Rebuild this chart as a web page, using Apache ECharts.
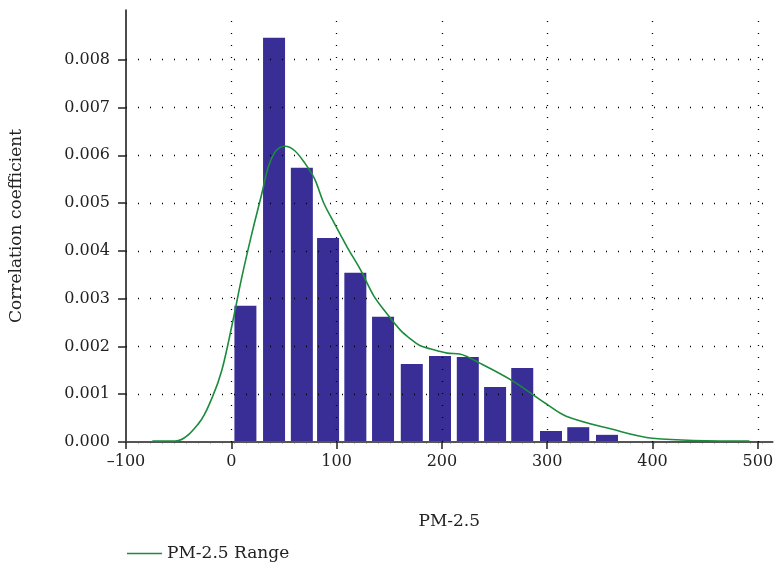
<!DOCTYPE html>
<html>
<head>
<meta charset="utf-8">
<script src="https://cdn.jsdelivr.net/npm/echarts@6/dist/echarts.min.js"></script>
<style>
  html, body { margin: 0; padding: 0; background: #fff; }
  #chartBox { width: 776px; height: 567px; }
</style>
</head>
<body>
<div id="chartBox"></div>
<script>
// histogram bins (bar centres on PM-2.5 axis) and heights
const binCenters = [13.4, 40.6, 67, 91.9, 117.8, 144.1, 171.4, 198.2, 224.6, 250.5, 276.3, 303.6, 329.5, 356.8]
const binHeights = [0.00285, 0.00846, 0.00574, 0.00427, 0.00354, 0.00262, 0.00163, 0.0018, 0.00178, 0.00115, 0.00155, 0.00023, 0.00031, 0.00015]

// density curve "PM-2.5 Range"
const curveX = [-75, -53, -31, -18, -9, 1, 10, 19.5, 29, 35, 41, 46, 51, 60, 70, 79, 88, 98, 110, 123, 135, 148, 161, 170, 179, 189, 205, 217, 236, 267, 299, 318, 361, 400, 492]
const curveY = [0.00002, 0.00002, 0.00039, 0.00094, 0.0015, 0.00248, 0.00345, 0.00436, 0.0052, 0.00575, 0.00605, 0.00616, 0.00619, 0.0061, 0.00583, 0.00551, 0.00499, 0.00457, 0.00408, 0.00359, 0.00307, 0.00268, 0.00233, 0.00216, 0.00202, 0.00195, 0.00186, 0.00184, 0.00165, 0.00128, 0.0008, 0.00054, 0.00027, 0.00008, 0.00002]

const xTicks = [-100, 0, 100, 200, 300, 400, 500]
const yTicks = [0, 0.001, 0.002, 0.003, 0.004, 0.005, 0.006, 0.007, 0.008]

const font = 'DejaVu Serif'
const dotted = { color: '#000', type: [1, 11], width: 1.3 }

let myChart = echarts.init(document.getElementById('chartBox'))
myChart.setOption({
  animation: false,
  textStyle: { fontFamily: font },
  grid: { left: 123, right: 0, top: 10, bottom: 125 },
  legend: {
    left: 122,
    top: 540,
    itemWidth: 35,
    itemHeight: 1.5,
    itemGap: 10,
    textStyle: { fontFamily: font, fontSize: 17, color: '#222' },
    data: [{ name: 'PM-2.5 Range', icon: 'rect' }]
  },
  xAxis: {
    type: 'value',
    min: -100,
    max: 514,
    interval: 100,
    z: 3,
    name: 'PM-2.5',
    nameLocation: 'middle',
    nameGap: 71,
    nameTextStyle: { fontFamily: font, fontSize: 17, color: '#222' },
    axisLine: { onZero: false, lineStyle: { color: '#555', width: 2 } },
    axisTick: { length: 7, customValues: xTicks, lineStyle: { color: '#222', width: 1.5 } },
    axisLabel: {
      margin: 12,
      fontFamily: font,
      fontSize: 16,
      color: '#222',
      customValues: xTicks,
      formatter: v => String(v).replace('-', '\u2013')
    },
    splitLine: { show: false }
  },
  yAxis: {
    type: 'value',
    min: 0,
    max: 0.00904,
    interval: 0.001,
    z: 3,
    name: 'Correlation coefficient',
    nameLocation: 'middle',
    nameGap: 101,
    nameTextStyle: { fontFamily: font, fontSize: 17, color: '#222' },
    axisLine: { show: true, onZero: false, lineStyle: { color: '#111', width: 1.5 } },
    axisTick: { show: true, length: 8, customValues: yTicks, lineStyle: { color: '#222', width: 1.5 } },
    axisLabel: {
      margin: 16,
      fontFamily: font,
      fontSize: 16,
      color: '#222',
      customValues: yTicks,
      formatter: v => v.toFixed(3)
    },
    splitLine: { show: true, lineStyle: dotted }
  },
  series: [
    {
      name: 'Histogram',
      type: 'bar',
      barWidth: 22,
      itemStyle: { color: '#382e96' },
      data: binCenters.map((x, i) => [x, binHeights[i]]),
      markLine: {
        silent: true,
        symbol: 'none',
        z: 4,
        label: { show: false },
        lineStyle: dotted,
        data: xTicks.filter(v => v > -100).map(v => ({ xAxis: v }))
      }
    },
    {
      name: 'PM-2.5 Range',
      type: 'line',
      smooth: 0.35,
      symbol: 'none',
      z: 5,
      lineStyle: { color: '#1b8c3c', width: 1.6 },
      itemStyle: { color: '#1b8c3c' },
      data: curveX.map((x, i) => [x, curveY[i]])
    }
  ]
})
</script>
</body>
</html>
